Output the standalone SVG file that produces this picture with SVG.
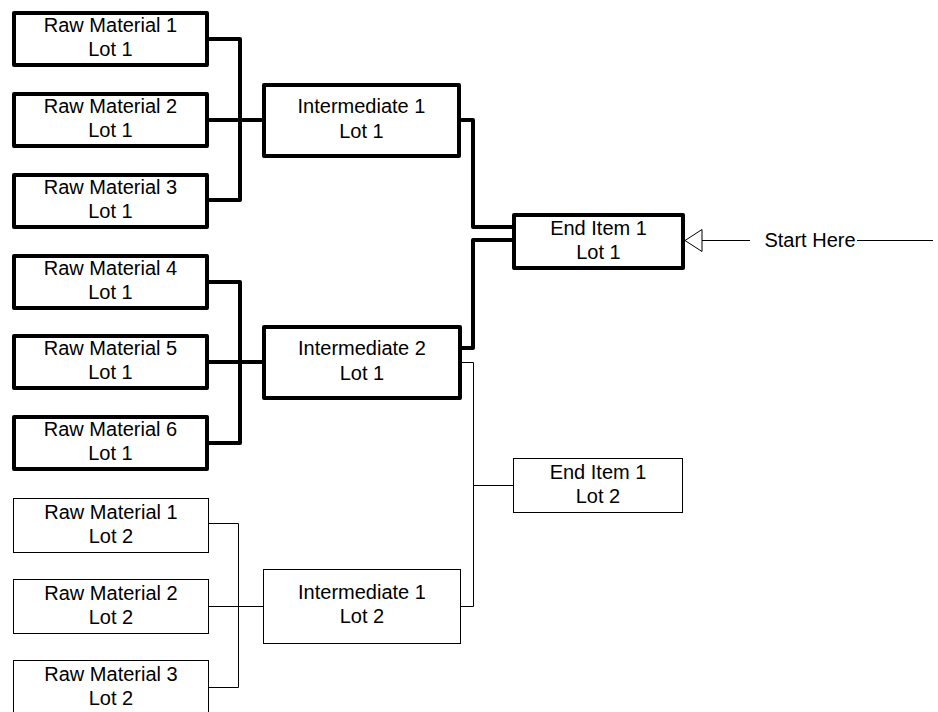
<svg xmlns="http://www.w3.org/2000/svg" width="938" height="712" viewBox="0 0 938 712">
<style>
  .thick { fill: #fff; stroke: #000; stroke-width: 4; stroke-linejoin: round; }
  .thin { fill: #fff; stroke: #000; stroke-width: 1; }
  .cthick { fill: none; stroke: #000; stroke-width: 4; stroke-linejoin: round; }
  .cthin { fill: none; stroke: #000; stroke-width: 1; }
  text { font-family: "Liberation Sans", Arial, sans-serif; font-size: 20px; fill: #000; text-anchor: middle; }
</style>
<rect width="938" height="712" fill="#fff"/>
<g id="connectors">
  <path class="cthick" d="M207 39 H240 V200 H207 M207 120 H264"/>
  <path class="cthick" d="M207 282 H240 V443 H207 M207 362 H264"/>
  <path class="cthick" d="M459 120 H473 V227 H514"/>
  <path class="cthick" d="M460 348 H473 V240 H514"/>
  <path class="cthin" d="M462 362.5 H473.5 V606.5 H460.5 M473.5 485.5 H513.5"/>
  <path class="cthin" d="M208.5 523.5 H238.5 V687.5 H208.5 M208.5 606.5 H263.5"/>
  <path class="cthin" d="M702 240.5 H750 M857 240.5 H933"/>
  <polygon class="cthin" points="685,240.5 702,229.5 702,251.5"/>
  <text x="810" y="247">Start Here</text>
</g>
<g id="rm1l1"><rect class="thick" x="14" y="13" width="193" height="52"/><text x="110.5" y="32">Raw Material 1</text><text x="110.5" y="56">Lot 1</text></g>
<g id="rm2l1"><rect class="thick" x="14" y="94" width="193" height="52"/><text x="110.5" y="113">Raw Material 2</text><text x="110.5" y="137">Lot 1</text></g>
<g id="rm3l1"><rect class="thick" x="14" y="175" width="193" height="52"/><text x="110.5" y="194">Raw Material 3</text><text x="110.5" y="218">Lot 1</text></g>
<g id="rm4l1"><rect class="thick" x="14" y="256" width="193" height="52"/><text x="110.5" y="275">Raw Material 4</text><text x="110.5" y="299">Lot 1</text></g>
<g id="rm5l1"><rect class="thick" x="14" y="336" width="193" height="52"/><text x="110.5" y="355">Raw Material 5</text><text x="110.5" y="379">Lot 1</text></g>
<g id="rm6l1"><rect class="thick" x="14" y="417" width="193" height="52"/><text x="110.5" y="436">Raw Material 6</text><text x="110.5" y="460">Lot 1</text></g>
<g id="rm1l2"><rect class="thin" x="13.5" y="498.5" width="195" height="54"/><text x="111" y="518.5">Raw Material 1</text><text x="111" y="542.5">Lot 2</text></g>
<g id="rm2l2"><rect class="thin" x="13.5" y="579.5" width="195" height="54"/><text x="111" y="599.5">Raw Material 2</text><text x="111" y="623.5">Lot 2</text></g>
<g id="rm3l2"><rect class="thin" x="13.5" y="660.5" width="195" height="54"/><text x="111" y="680.5">Raw Material 3</text><text x="111" y="704.5">Lot 2</text></g>
<g id="int1l1"><rect class="thick" x="264" y="85" width="195" height="71"/><text x="361.5" y="113">Intermediate 1</text><text x="361.5" y="138">Lot 1</text></g>
<g id="int2l1"><rect class="thick" x="264" y="327" width="196" height="71"/><text x="362" y="355">Intermediate 2</text><text x="362" y="380">Lot 1</text></g>
<g id="int1l2"><rect class="thin" x="263.5" y="569.5" width="197" height="74"/><text x="362" y="599">Intermediate 1</text><text x="362" y="623">Lot 2</text></g>
<g id="end1l1"><rect class="thick" x="514" y="215" width="169" height="53"/><text x="598.5" y="234.5">End Item 1</text><text x="598.5" y="258.5">Lot 1</text></g>
<g id="end1l2"><rect class="thin" x="513.5" y="458.5" width="169" height="54"/><text x="598" y="478.5">End Item 1</text><text x="598" y="502.5">Lot 2</text></g>
</svg>
